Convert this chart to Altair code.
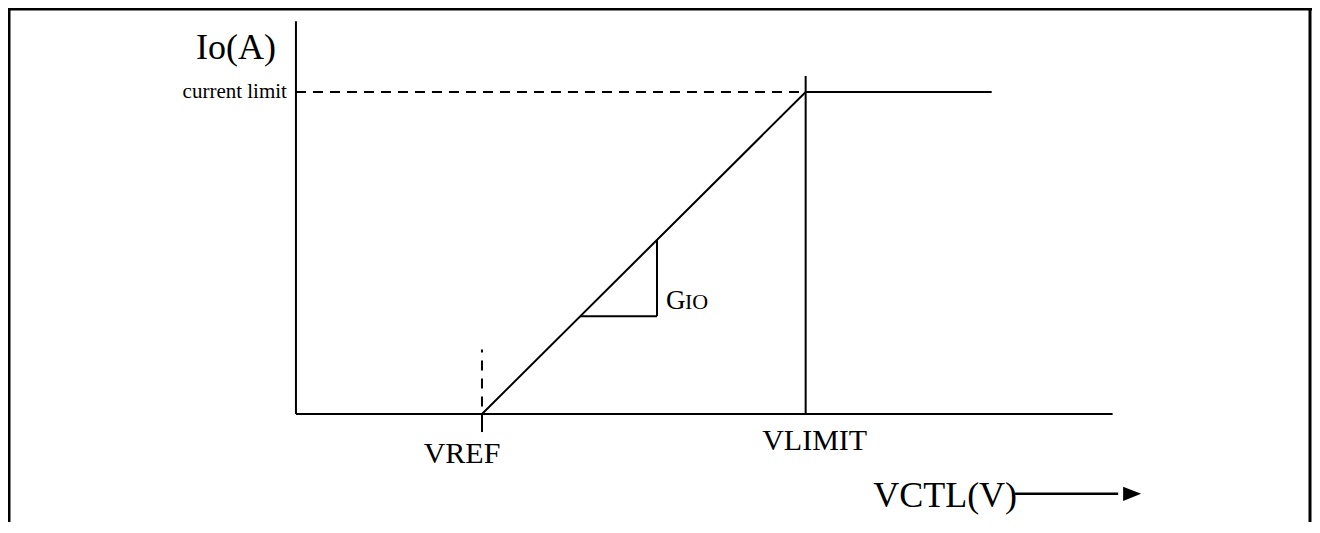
import altair as alt
import pandas as pd

# ---- values (x in units of VREF, y in units of the current limit)
V_REF = 1.0
V_LIMIT = 2.74
I_LIMIT = 1.0
V_END = 3.74            # end of the flat (limited) part
X_AXIS_END = 4.39
Y_AXIS_TOP = 1.22
V_LIMIT_MARK_TOP = 1.05
V_REF_DASH_TOP = 0.20
V_REF_TICK_BOTTOM = -0.056

curve_v = [V_REF, V_LIMIT, V_END]
curve_i = [0.0, I_LIMIT, I_LIMIT]

slope_v = [1.527, 1.941]     # gain triangle
slope_i = [0.304, 0.540]

arrow_v = [3.866, 4.42]
arrow_i = -0.248
arrow_tip_v = 4.495

X_DOMAIN = [-1.548, 5.462]
Y_DOMAIN = [-0.3354, 1.261]

W, H = 1304, 514
FONT = "Liberation Serif"

xs = alt.Scale(domain=X_DOMAIN, nice=False, zero=False)
ys = alt.Scale(domain=Y_DOMAIN, nice=False, zero=False)


def X(f):
    return alt.X(f, type="quantitative", scale=xs, axis=None)


def Y(f):
    return alt.Y(f, type="quantitative", scale=ys, axis=None)


def segs(rows, **mk):
    df = pd.DataFrame(rows, columns=["x", "x2", "y", "y2"])
    return alt.Chart(df).mark_rule(color="black", **mk).encode(
        x=X("x"), x2="x2", y=Y("y"), y2="y2"
    )


solid = segs(
    [
        [0.0, 0.0, 0.0, Y_AXIS_TOP],                       # y axis
        [0.0, X_AXIS_END, 0.0, 0.0],                       # x axis
        [V_LIMIT, V_LIMIT, 0.0, V_LIMIT_MARK_TOP],         # VLIMIT marker
        [V_REF, V_REF, 0.0, V_REF_TICK_BOTTOM],            # VREF tick
        [slope_v[0], slope_v[1], slope_i[0], slope_i[0]],  # triangle base
        [slope_v[1], slope_v[1], slope_i[0], slope_i[1]],  # triangle side
    ],
    strokeWidth=2,
)

limit_dash = segs(
    [[0.0, V_LIMIT, I_LIMIT, I_LIMIT]], strokeWidth=2, strokeDash=[10, 7]
)
vref_dash = segs(
    [[V_REF, V_REF, V_REF_DASH_TOP, 0.0]], strokeWidth=2,
    strokeDash=[10, 8], strokeDashOffset=7
)

arrow_line = segs([[arrow_v[0], arrow_v[1], arrow_i, arrow_i]], strokeWidth=2.5)

curve = alt.Chart(pd.DataFrame({"v": curve_v, "i": curve_i})).mark_line(
    color="black", strokeWidth=2
).encode(x=X("v"), y=Y("i"), order="v")

arrow_head = alt.Chart(pd.DataFrame({"v": [arrow_tip_v], "i": [arrow_i]})).mark_point(
    shape="M-1,-0.78L1,0L-1,0.78Z", filled=True, size=324, color="black",
    opacity=1, strokeWidth=0
).encode(x=X("v"), y=Y("i"))


def label(text, x, y, size, align, dx, dy):
    df = pd.DataFrame({"t": [text], "x": [x], "y": [y]})
    return alt.Chart(df).mark_text(
        font=FONT, fontSize=size, align=align, baseline="alphabetic",
        dx=dx, dy=dy, color="black"
    ).encode(x=X("x"), y=Y("y"), text="t")


labels = [
    label("Io(A)", 0.0, Y_AXIS_TOP, 36, "right", -20, 38),
    label("current limit", 0.0, I_LIMIT, 21, "right", -9, 6),
    label("VREF", V_REF, 0.0, 30, "center", -20, 49),
    label("VLIMIT", V_LIMIT, 0.0, 30, "center", 9, 36),
    label("VCTL(V)", arrow_v[0], arrow_i, 36, "right", 2, 13),
    label("G", slope_v[1], slope_i[0], 27, "left", 9, -7),
    label("IO", slope_v[1], slope_i[0], 22, "left", 28, -7),
]

# frame (decoration, in pixels)
one = pd.DataFrame({"k": [0]})
frame = [
    alt.Chart(one).mark_rule(color="black", strokeWidth=3).encode(
        x=alt.value(1), y=alt.value(0), y2=alt.value(H)),
    alt.Chart(one).mark_rule(color="black", strokeWidth=3).encode(
        x=alt.value(0), x2=alt.value(W), y=alt.value(1)),
    alt.Chart(one).mark_rule(color="black", strokeWidth=3).encode(
        x=alt.value(W - 2), y=alt.value(0), y2=alt.value(H)),
]

chart = alt.layer(
    *frame, solid, limit_dash, vref_dash, curve, arrow_line, arrow_head, *labels
).properties(
    width=W, height=H, padding=0,
    autosize=alt.AutoSizeParams(type="none"),
    background="white",
).configure_view(strokeWidth=0)

chart.save("out.html", embed_options={"renderer": "svg", "actions": False})
